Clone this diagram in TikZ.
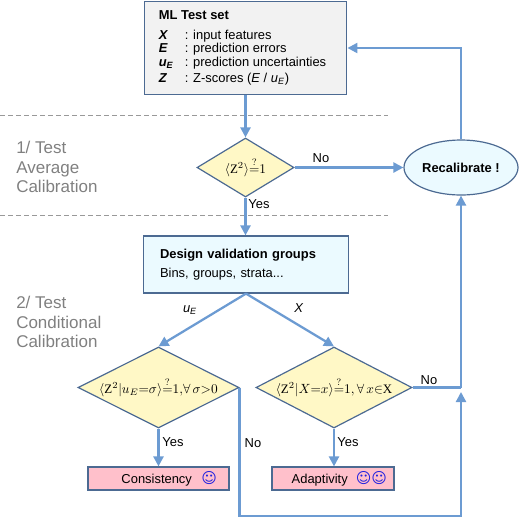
\documentclass[tikz,border=0pt]{standalone}
\usepackage{amsmath}
\usepackage{fontspec}
\setmainfont{Liberation Sans}
\setmathrm{Liberation Serif}
\newfontfamily\smileyfont{DejaVu Sans}
\usetikzlibrary{arrows.meta,shapes.geometric}

\definecolor{flowblue}{HTML}{6C9BD2}
\definecolor{edgeblue}{HTML}{4C6A92}
\definecolor{testgrey}{HTML}{F2F2F2}
\definecolor{groupblue}{HTML}{EBFAFF}
\definecolor{testyellow}{HTML}{FFF8C6}
\definecolor{resultpink}{HTML}{FFC0CB}
\definecolor{smileblue}{HTML}{2020E0}

\newcommand{\smiley}{{\smileyfont\fontsize{11.2pt}{12pt}\selectfont\color{smileblue}\char"263A}}
\newcommand{\isone}{{\overset{?}{=}}1}

\tikzset{
    flow/.style={draw=flowblue,line width=1.7pt},
    flowarrow/.style={flow,-{Triangle[length=7.5pt,width=7.5pt]}},
    sepline/.style={draw=black!40,dashed,line width=1.1pt,dash pattern=on 3.5pt off 2.5pt},
    boxbase/.style={draw=edgeblue,line width=0.9pt,inner sep=0pt},
    testbox/.style={boxbase,fill=testyellow,shape=diamond},
    resultbox/.style={boxbase,rectangle,fill=resultpink,minimum width=#1,minimum height=17.25pt},
    grouplabel/.style={text=black!50,font=\fontsize{12.75pt}{14.6pt}\selectfont,align=left,anchor=west,inner sep=0pt},
    flowlabel/.style={font=\fontsize{9.7pt}{11pt}\selectfont}
}

\begin{document}
\begin{tikzpicture}[x=0.75pt,y=-0.75pt,font=\fontsize{9.7pt}{11pt}\selectfont]
    \useasboundingbox (0,0) rectangle (520,519);

    \coordinate (sepA) at (0,115.5);
    \coordinate (sepAend) at (388,115.5);
    \coordinate (sepB) at (0,215.5);
    \coordinate (sepBend) at (388,215.5);
    \coordinate (join) at (461,387.5);
    \coordinate (joinTip) at (461,392);
    \coordinate (backTop) at (461,48);
    \coordinate (noRight) at (461,516);

    \draw[sepline] (sepA)--(sepAend) (sepB)--(sepBend);

    \node[grouplabel] (avgLabel) at (16,167) {1/ Test\\Average\\Calibration};
    \node[grouplabel] (condLabel) at (16,322) {2/ Test\\Conditional\\Calibration};

    \node[boxbase,fill=testgrey,minimum width=152pt,minimum height=70pt] (testset) at (245.5,48) {%
        \begin{tabular}{@{}p{19.5pt}@{}l@{}}
            \multicolumn{2}{@{}l@{}}{\textbf{ML Test set}}\\[3.5pt]
            \textbf{\textit{X}} & : input features\\[-0.6pt]
            \textbf{\textit{E}} & : prediction errors\\[-0.6pt]
            \textbf{\textit{u}}\textsubscript{\textbf{\textit{E}}} & : prediction uncertainties\\[0.6pt]
            \textbf{\textit{Z}} & : Z-scores (\textit{E} / \textit{u}\textsubscript{\textit{E}})
        \end{tabular}\hspace{4.5pt}\mbox{}};

    \node[testbox,minimum width=72.75pt,minimum height=44.25pt,shape aspect=1.64] (avgTest) at (245.5,167.5) {$\langle\mathrm{Z}^2\rangle\isone$};

    \node[boxbase,ellipse,fill=groupblue,minimum width=85.5pt,minimum height=41.25pt] (recal) at (461,167.5) {\textbf{Recalibrate !}};

    \node[boxbase,fill=groupblue,minimum width=154pt,minimum height=42.75pt,align=left,text width=129pt] (design) at (246,264.5) {\textbf{Design validation groups}\\[3.5pt]Bins, groups, strata...};

    \node[testbox,minimum width=120.75pt,minimum height=60.75pt,shape aspect=1.99] (uTest) at (158.5,387.5) {$\langle\mathrm{Z}^2|u_E{=}\sigma\rangle\isone{,}\forall\,\sigma{>}0$};
    \node[testbox,minimum width=117pt,minimum height=60.75pt,shape aspect=1.93] (xTest) at (334,387.5) {$\langle\mathrm{Z}^2|X{=}x\rangle\isone{,}\,\forall\,x{\in}\mathrm{X}$};

    \node[resultbox=105.75pt] (consistency) at (158.5,478.5) {\hspace{16pt}Consistency\hspace{7pt}\smiley};
    \node[resultbox=91.5pt] (adaptivity) at (333,478.5) {\hspace{9.5pt}Adaptivity\hspace{6pt}\smiley\smiley};

    \draw[flowarrow] (testset.south-|avgTest.north)--(avgTest.north);
    \draw[flowarrow] (avgTest.south)--(avgTest.south|-design.north);
    \draw[flowarrow] (avgTest.east)--(recal.west);
    \draw[flowarrow] (recal.north)--(backTop)--(testset.east);
    \draw[flowarrow] (design.south)--(uTest.north);
    \draw[flowarrow] (design.south)--(xTest.north);
    \draw[flowarrow] (uTest.south)--(consistency.north);
    \draw[flowarrow] (xTest.south)--(xTest.south|-adaptivity.north);
    \draw[flow] (xTest.east)--(join);
    \draw[flowarrow] (join)--(recal.south);
    \draw[flowarrow] (uTest.east)|-(noRight)--(joinTip);

    \node[flowlabel] (noAvg) at (321,158) {No};
    \node[flowlabel] (yesAvg) at (259,204) {Yes};
    \node (uLabel) at (190,310) {\textit{u}\textsubscript{\textit{E}}};
    \node (xLabel) at (299,308) {\textit{X}};
    \node[flowlabel] (yesU) at (173,442) {Yes};
    \node[flowlabel] (yesX) at (348,442) {Yes};
    \node[flowlabel] (noU) at (253,443) {No};
    \node[flowlabel] (noX) at (429,380) {No};
\end{tikzpicture}
\end{document}
